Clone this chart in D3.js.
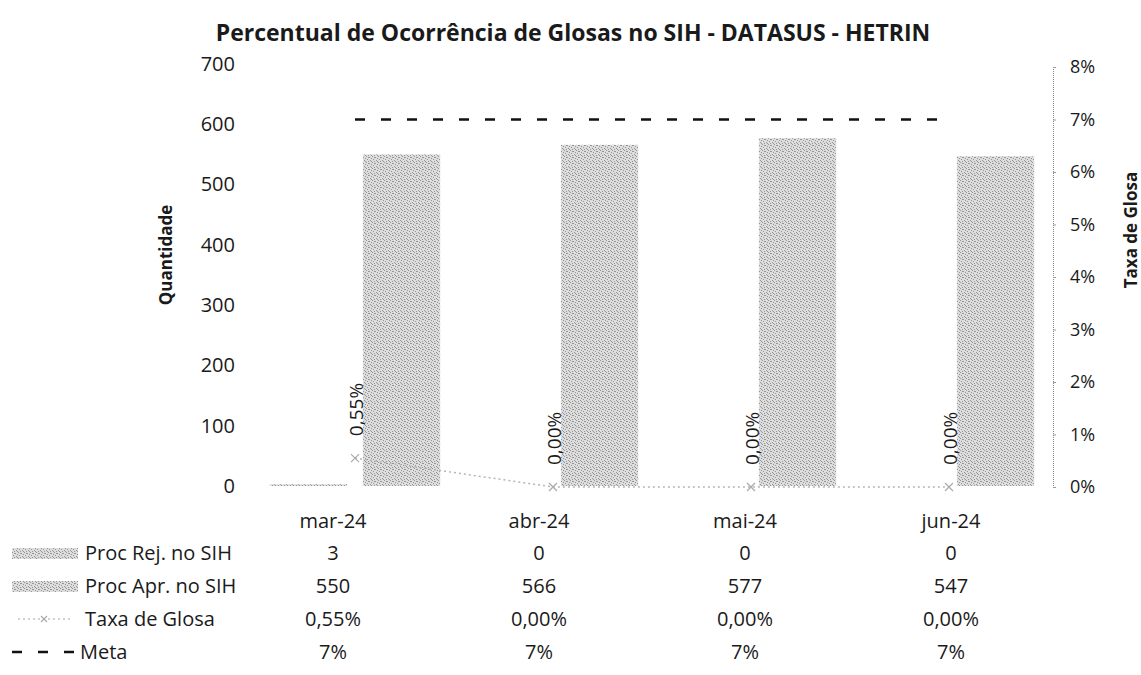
<!DOCTYPE html>
<html>
<head>
<meta charset="utf-8">
<script src="https://cdn.jsdelivr.net/npm/d3@7"></script>
<style>
  body { margin: 0; background: #fff; }
  text { font-family: "Open Sans", Lato, sans-serif; fill: #1a1a1a; }
</style>
</head>
<body>
<div class="chart_glosas"></div>
<script>
// Chart data
var categories = ["mar-24", "abr-24", "mai-24", "jun-24"];
var procRej = [3, 0, 0, 0];
var procApr = [550, 566, 577, 547];
var taxaGlosa = [0.0055, 0, 0, 0];
var meta = [0.07, 0.07, 0.07, 0.07];
var leftTicks = [0, 100, 200, 300, 400, 500, 600, 700];
var rightTicks = [0, 0.01, 0.02, 0.03, 0.04, 0.05, 0.06, 0.07, 0.08];
var seriesNames = ["Proc Rej. no SIH", "Proc Apr. no SIH", "Taxa de Glosa", "Meta"];

var svgWidth = 1141;
var svgHeight = 675;
var fontSize = "20px";

var svg = d3
    .select(".chart_glosas")
    .append("svg")
    .attr("width", svgWidth)
    .attr("height", svgHeight);

// stippled gray fill like the printed bars
var defs = svg.append("defs");
var pat = defs.append("pattern")
    .attr("id", "stipple")
    .attr("width", 6)
    .attr("height", 6)
    .attr("patternUnits", "userSpaceOnUse");
pat.append("rect").attr("width", 6).attr("height", 6).attr("fill", "#dddddd");
[[0, 0], [3, 1], [5, 2], [1, 3], [4, 4], [2, 5], [5, 5], [2, 1]].forEach(function (p) {
    pat.append("rect").attr("x", p[0]).attr("y", p[1]).attr("width", 1).attr("height", 1).attr("fill", "#959595");
});

var pt = d3.formatLocale({ decimal: ",", thousands: ".", grouping: [3], currency: ["R$", ""] });
var fmtPct2 = pt.format(".2%");
var fmtPct0 = pt.format(".0%");

// Scales
var x0 = d3.scaleBand().domain(categories).range([256, 1048]).paddingInner(0.14).paddingOuter(0.07);
var x1 = d3.scaleBand().domain(["rej", "apr"]).range([0, x0.bandwidth()]).paddingInner(0.17);
var yLeft = d3.scaleLinear().domain([0, 700]).range([486, 64]);
var yRight = d3.scaleLinear().domain([0, 0.08]).range([487, 67]);
var xTable = d3.scaleBand().domain(categories).range([230, 1054]);

function center(c) { return x0(c) + x0.bandwidth() / 2; }

// Title
svg.append("text")
    .attr("x", 573)
    .attr("y", 41)
    .attr("text-anchor", "middle")
    .style("font-size", "23px")
    .style("font-weight", "bold")
    .text("Percentual de Ocorrência de Glosas no SIH - DATASUS - HETRIN");

// Left axis
var leftAxis = d3.axisLeft(yLeft).tickValues(leftTicks).tickSize(0).tickPadding(8);
var gL = svg.append("g").attr("transform", "translate(243,0)").call(leftAxis);
gL.select(".domain").remove();
gL.selectAll("text").style("font-size", fontSize).style("font-family", "'Open Sans', sans-serif").attr("fill", "#1a1a1a");

svg.append("text")
    .attr("transform", "translate(172,255) rotate(-90)")
    .attr("text-anchor", "middle")
    .style("font-size", "17px")
    .style("font-weight", "bold")
    .text("Quantidade");

// Right axis
var rightAxis = d3.axisRight(yRight).tickValues(rightTicks).tickSize(3).tickPadding(14).tickFormat(fmtPct0);
var gR = svg.append("g").attr("transform", "translate(1053,0)").call(rightAxis);
gR.select(".domain").attr("stroke", "#888").attr("stroke-dasharray", "1,1");
gR.selectAll(".tick line").attr("stroke", "#999");
gR.selectAll("text").style("font-size", "18px").style("font-family", "'Open Sans', sans-serif").attr("fill", "#1a1a1a");

svg.append("text")
    .attr("transform", "translate(1137,230) rotate(-90)")
    .attr("text-anchor", "middle")
    .style("font-size", "17px")
    .style("font-weight", "bold")
    .text("Taxa de Glosa");

// Bars
var plot = svg.append("g");
plot.selectAll("rect.rej")
    .data(categories)
    .enter()
    .append("rect")
    .attr("class", "rej")
    .attr("x", function (c) { return x0(c) + x1("rej"); })
    .attr("width", x1.bandwidth())
    .attr("y", function (c, i) { return yLeft(procRej[i]); })
    .attr("height", function (c, i) { return yLeft(0) - yLeft(procRej[i]); })
    .attr("fill", "url(#stipple)");

plot.selectAll("rect.apr")
    .data(categories)
    .enter()
    .append("rect")
    .attr("class", "apr")
    .attr("x", function (c) { return x0(c) + x1("apr"); })
    .attr("width", x1.bandwidth())
    .attr("y", function (c, i) { return yLeft(procApr[i]); })
    .attr("height", function (c, i) { return yLeft(0) - yLeft(procApr[i]); })
    .attr("fill", "url(#stipple)");

// Meta line (secondary axis)
var line = d3.line()
    .x(function (d, i) { return center(categories[i]); })
    .y(function (d) { return yRight(d); });

plot.append("path")
    .datum(meta)
    .attr("d", line)
    .attr("fill", "none")
    .attr("stroke", "#111")
    .attr("stroke-width", 2.5)
    .attr("stroke-dasharray", "10,16");

// Taxa de Glosa line with x markers
plot.append("path")
    .datum(taxaGlosa)
    .attr("d", line)
    .attr("fill", "none")
    .attr("stroke", "#b5b5b5")
    .attr("stroke-width", 1.5)
    .attr("stroke-dasharray", "2,3");

taxaGlosa.forEach(function (v, i) {
    var cx = center(categories[i]);
    var cy = yRight(v);
    plot.append("path")
        .attr("d", "M" + (cx - 4) + "," + (cy - 4) + "L" + (cx + 4) + "," + (cy + 4) +
            "M" + (cx - 4) + "," + (cy + 4) + "L" + (cx + 4) + "," + (cy - 4))
        .attr("stroke", "#aaa")
        .attr("stroke-width", 1.2);
    plot.append("text")
        .attr("transform", "translate(" + (cx + 8) + "," + (cy - 22) + ") rotate(-90)")
        .style("font-size", "19px")
        .text(fmtPct2(v));
});

// Data table under the chart
var rowY = [521, 553, 586, 619, 652];
categories.forEach(function (c, i) {
    var tx = xTable(c) + xTable.bandwidth() / 2;
    var vals = [c, procRej[i], procApr[i], fmtPct2(taxaGlosa[i]), fmtPct0(meta[i])];
    vals.forEach(function (v, r) {
        svg.append("text")
            .attr("x", tx)
            .attr("y", rowY[r] + 7)
            .attr("text-anchor", "middle")
            .style("font-size", fontSize)
            .text(v);
    });
});

// Legend keys and names
seriesNames.forEach(function (name, r) {
    var y = rowY[r + 1];
    if (r < 2) {
        svg.append("rect").attr("x", 12).attr("y", y - 5).attr("width", 66).attr("height", 11).attr("fill", "url(#stipple)");
    } else if (r === 2) {
        svg.append("line").attr("x1", 18).attr("x2", 72).attr("y1", y).attr("y2", y)
            .attr("stroke", "#c5c5c5").attr("stroke-width", 1.5).attr("stroke-dasharray", "2,3");
        svg.append("path").attr("d", "M41,-3L47,3M41,3L47,-3").attr("transform", "translate(0," + y + ")")
            .attr("stroke", "#aaa").attr("stroke-width", 1.2);
    } else {
        svg.append("line").attr("x1", 12).attr("x2", 78).attr("y1", y).attr("y2", y)
            .attr("stroke", "#111").attr("stroke-width", 2.5).attr("stroke-dasharray", "10,16");
    }
    svg.append("text")
        .attr("x", r === 3 ? 80 : 85)
        .attr("y", y + 7)
        .style("font-size", fontSize)
        .text(name);
});
</script>
</body>
</html>
